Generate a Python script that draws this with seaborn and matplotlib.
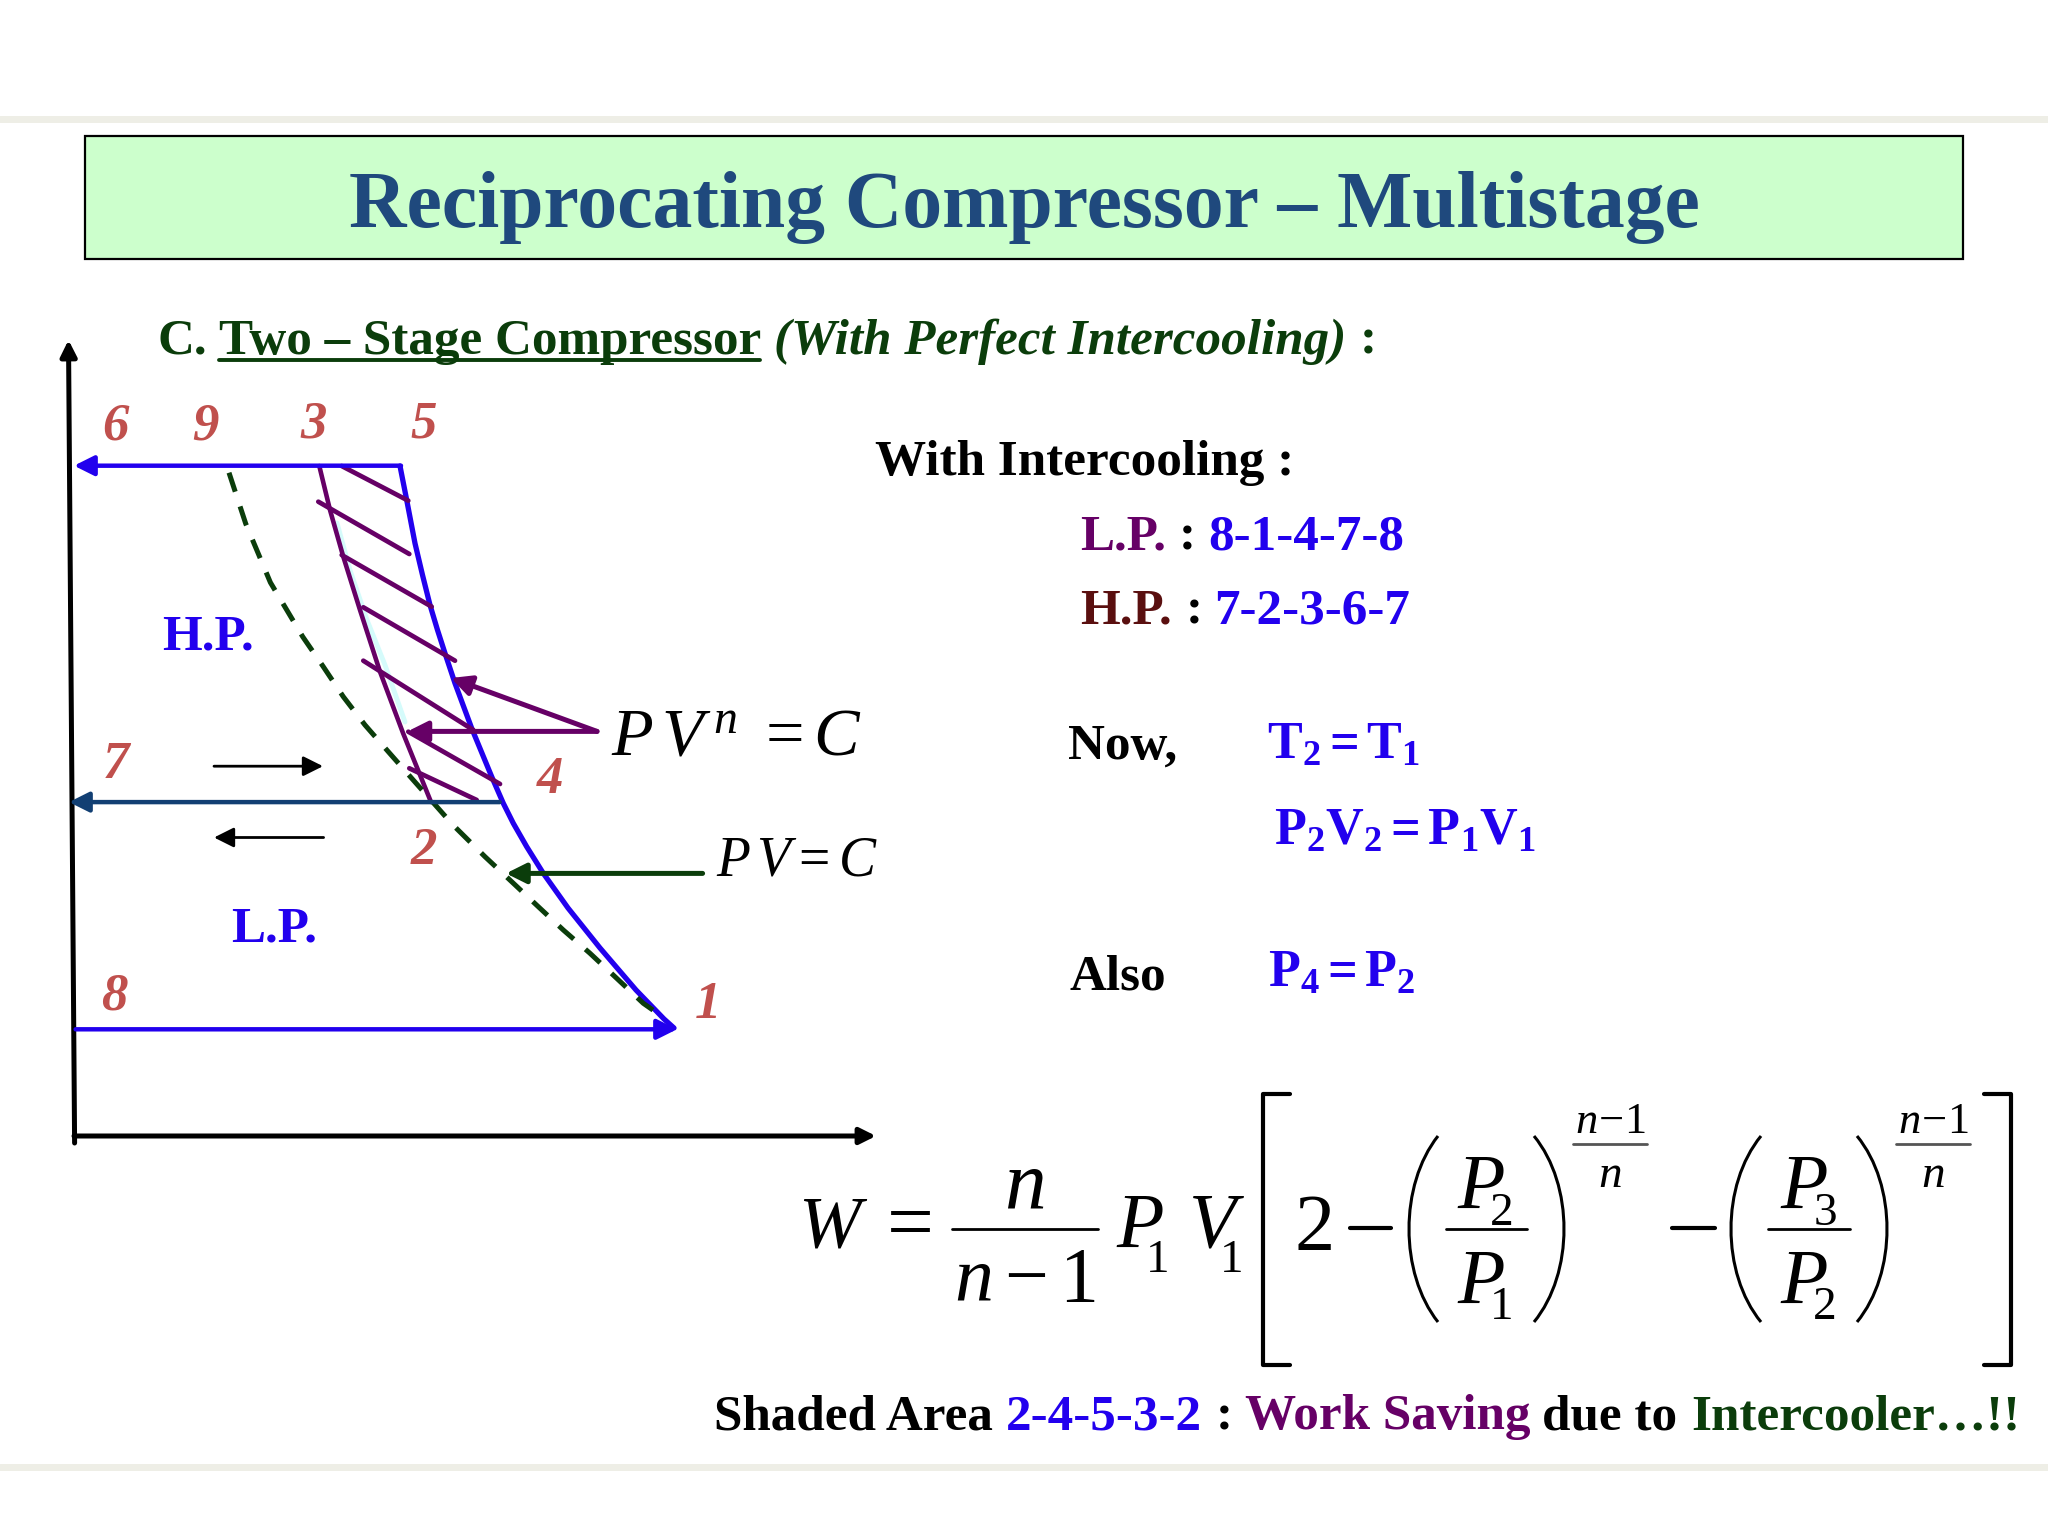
import matplotlib
matplotlib.use("Agg")
import matplotlib.pyplot as plt
import seaborn as sns
from matplotlib.patches import Rectangle, PathPatch
from matplotlib.path import Path

# ---- data (diagram, in picture units) ----
compress_v = [400, 406.7, 415, 422.5, 430, 437.5, 445, 455, 471.7, 491.7, 503.3, 513.3, 526.7, 543.3, 568, 600, 636, 664, 674]
compress_p = [466, 500, 543.3, 575, 605, 630, 653.3, 683.3, 728.3, 776.7, 803.3, 823.3, 846.7, 873.3, 908, 948, 990, 1019, 1028]
hp_v = [319.3, 330, 343.3, 360, 380, 403, 418, 431]
hp_p = [466, 510, 556.7, 610, 671.7, 733, 770, 802]
sliver_v = [337, 350, 367, 385, 405]
sliver_p = [523, 570, 620, 665, 722]
iso_v = [229, 245.7, 270.4, 302.7, 323.3, 343.3, 365, 388.3, 411.7, 453, 485, 511.7, 538.3, 563.3, 590, 616.7, 643.3, 660]
iso_p = [472.7, 523.6, 582.5, 636.7, 666.7, 696.7, 725, 751.7, 778.3, 825, 856.7, 881.7, 906.7, 930, 953.3, 978.3, 1003.3, 1015]
hatch_v = [(341.7, 408.3), (318.3, 409.3), (341.7, 431.7), (363.3, 455),
           (363.3, 473.3), (408.3, 500), (409.3, 476.7)]
hatch_p = [(466, 500.7), (501.7, 554), (555, 606.7), (607.3, 660.7),
           (660.7, 730), (731.7, 784), (768.3, 800)]
state_labels = ["6", "9", "3", "5", "7", "4", "2", "8", "1"]
state_x = [115, 205, 314, 424, 116, 550, 424, 114, 708]
state_y = [427, 426, 424, 424, 765, 780, 851, 996, 1005]
title = "Reciprocating Compressor – Multistage"

BLUE = "#2200EE"
PURPLE = "#660066"
MAROON = "#5A0F0F"
GREEN = "#0B3D0B"
NAVY = "#1F497D"
RED = "#C0504D"

sns.set_theme(style="white")
plt.rcParams["font.family"] = ["Liberation Serif", "DejaVu Serif"]
plt.rcParams["mathtext.fontset"] = "custom"
plt.rcParams["mathtext.rm"] = "Liberation Serif"
plt.rcParams["mathtext.it"] = "Liberation Serif:italic"
plt.rcParams["mathtext.bf"] = "Liberation Serif:bold"

fig = plt.figure(figsize=(20.48, 15.36), dpi=100, facecolor="white")
ax = fig.add_axes([0, 0, 1, 1])


def line(x, y, color, lw, **kw):
    sns.lineplot(x=list(x), y=list(y), sort=False, estimator=None, color=color,
                 linewidth=lw, legend=False, ax=ax, **kw)


def arrow(start, tip, color, lw, size=30):
    ax.annotate("", xy=tip, xytext=start,
                arrowprops=dict(arrowstyle="-|>", color=color, lw=lw,
                                mutation_scale=size, shrinkA=0, shrinkB=0))


def t(x, y, s, size, color="black", weight="normal", style="normal", ha="left", va="center"):
    ax.text(x, y, s, fontsize=size, color=color, fontweight=weight, fontstyle=style,
            ha=ha, va=va)


# slide frame
line([0, 2048], [119, 119], "#EEEEE6", 5)
line([0, 2048], [1467, 1467], "#EEEEE6", 5)
ax.add_patch(Rectangle((85, 136), 1878, 123, facecolor="#CCFFCC", edgecolor="black", lw=1.6))
t(1024, 207, title, 57.3, NAVY, "bold", ha="center")

# heading
t(157, 342, "C.", 36.8, GREEN, "bold")
t(219, 342, "Two – Stage Compressor", 36.8, GREEN, "bold")
line([219, 760], [360, 360], GREEN, 2.8)
t(774, 342, "(With Perfect Intercooling)", 36.8, GREEN, "bold", "italic")
t(1360, 342, ":", 36.8, GREEN, "bold")

# axes of the diagram
arrow((74.6, 1143), (68.5, 340), "black", 3.6, 24)
arrow((74, 1136), (876, 1136), "black", 3.6, 24)

# process lines
line(sliver_v, sliver_p, "#D5FBFB", 3.5)
line(compress_v, compress_p, BLUE, 3.8)
line(hp_v, hp_p, PURPLE, 3.3)
line(iso_v, iso_p, GREEN, 3.6, linestyle=(0, (4, 3.1)))
for hx, hy in zip(hatch_v, hatch_p):
    line(hx, hy, PURPLE, 3.4)
arrow((401, 465.7), (74, 465.7), BLUE, 3.2)
arrow((499.7, 802.1), (69, 802.1), "#123F73", 3.2)
arrow((75.6, 1029.3), (677, 1029.3), BLUE, 3.2)
arrow((214, 766.2), (323, 766.2), "black", 2)
arrow((323.6, 837.5), (214, 837.5), "black", 2)
arrow((597, 731.4), (451, 678), PURPLE, 3.6)
arrow((597, 731.4), (407.5, 731.4), PURPLE, 3.6)
arrow((702.6, 873.4), (506, 873.4), GREEN, 3.6)

for s, x, y in zip(state_labels, state_x, state_y):
    t(x, y, s, 38, RED, "bold", "italic", ha="center")
t(208, 637, "H.P.", 36.8, BLUE, "bold", ha="center")
t(274, 930, "L.P.", 36.8, BLUE, "bold", ha="center")
t(611, 738, r"$P\,V^{\,n}\ =C$", 49.2)
t(716, 861, r"$P\,V=C$", 40)

# right-hand notes
t(875, 463, "With Intercooling :", 36.8, "black", "bold")
t(1080, 537, "L.P.", 36.8, PURPLE, "bold")
t(1179, 537, ":", 36.8, "black", "bold")
t(1208, 537, "8-1-4-7-8", 36.8, BLUE, "bold")
t(1080, 611, "H.P.", 36.8, MAROON, "bold")
t(1186, 611, ":", 36.8, "black", "bold")
t(1214, 611, "7-2-3-6-7", 36.8, BLUE, "bold")
t(1068, 747, "Now,", 36.8, "black", "bold")
t(1267, 746, r"$\mathbf{T_2 = T_1}$", 37.5, BLUE)
t(1274, 832, r"$\mathbf{P_2V_2 = P_1V_1}$", 37.5, BLUE)
t(1070, 977, "Also", 36.8, "black", "bold")
t(1268, 974, r"$\mathbf{P_4 = P_2}$", 37.5, BLUE)

# work formula
t(829, 1230, "W", 54, style="italic", ha="center")
t(910, 1229, "=", 60, ha="center")
line([952, 1098], [1229, 1229], "black", 2)
t(1025, 1188, "n", 60, style="italic", ha="center")
t(1025, 1282, r"$n-1$", 56, ha="center")
t(1140, 1228, "P", 56, style="italic", ha="center")
t(1158, 1261, "1", 34, ha="center")
t(1213, 1228, "V", 56, style="italic", ha="center")
t(1232, 1261, "1", 34, ha="center")
line([1290, 1263, 1263, 1290], [1094, 1094, 1365, 1365], "black", 3)
line([1984, 2011, 2011, 1984], [1094, 1094, 1365, 1365], "black", 3)
t(1315, 1231, "2", 58, ha="center")
line([1350, 1391], [1228, 1228], "black", 3)
line([1672, 1715], [1228, 1228], "black", 3)

for tip, bulge in [(1438, 1409), (1534, 1564), (1761, 1731), (1857, 1887)]:
    ctrl = tip + (bulge - tip) * 4 / 3
    ax.add_patch(PathPatch(Path([(tip, 1136), (ctrl, 1185), (ctrl, 1273), (tip, 1322)],
                                [Path.MOVETO, Path.CURVE4, Path.CURVE4, Path.CURVE4]),
                           fill=False, edgecolor="black", lw=2.2))
for bx0, bx1, px, up in [(1446, 1527, 1481, "2"), (1768, 1850, 1804, "3")]:
    line([bx0, bx1], [1229, 1229], "black", 2)
    t(px, 1189, "P", 56, style="italic", ha="center")
    t(px + 21, 1214, up, 34, ha="center")
for px, low in [(1481, "1"), (1804, "2")]:
    t(px, 1284, "P", 56, style="italic", ha="center")
    t(px + 21, 1308, low, 34, ha="center")
for cx in (1610, 1933):
    t(cx, 1122, r"$n\!-\!1$", 32, ha="center")
    line([cx - 37, cx + 37], [1144, 1144], "#555555", 2)
    t(cx, 1176, "n", 34, style="italic", ha="center")

# closing line
t(714, 1417, "Shaded Area", 36.8, "black", "bold")
t(1006, 1417, "2-4-5-3-2", 36.8, BLUE, "bold")
t(1216, 1417, ":", 36.8, "black", "bold")
t(1245, 1417, "Work Saving", 36.8, PURPLE, "bold")
t(1542, 1417, "due to", 36.8, "black", "bold")
t(1691, 1417, "Intercooler…!!", 36.8, GREEN, "bold")

ax.set_xlim(0, 2048)
ax.set_ylim(1536, 0)
ax.axis("off")
fig.savefig("out.png", dpi=100, facecolor="white")
